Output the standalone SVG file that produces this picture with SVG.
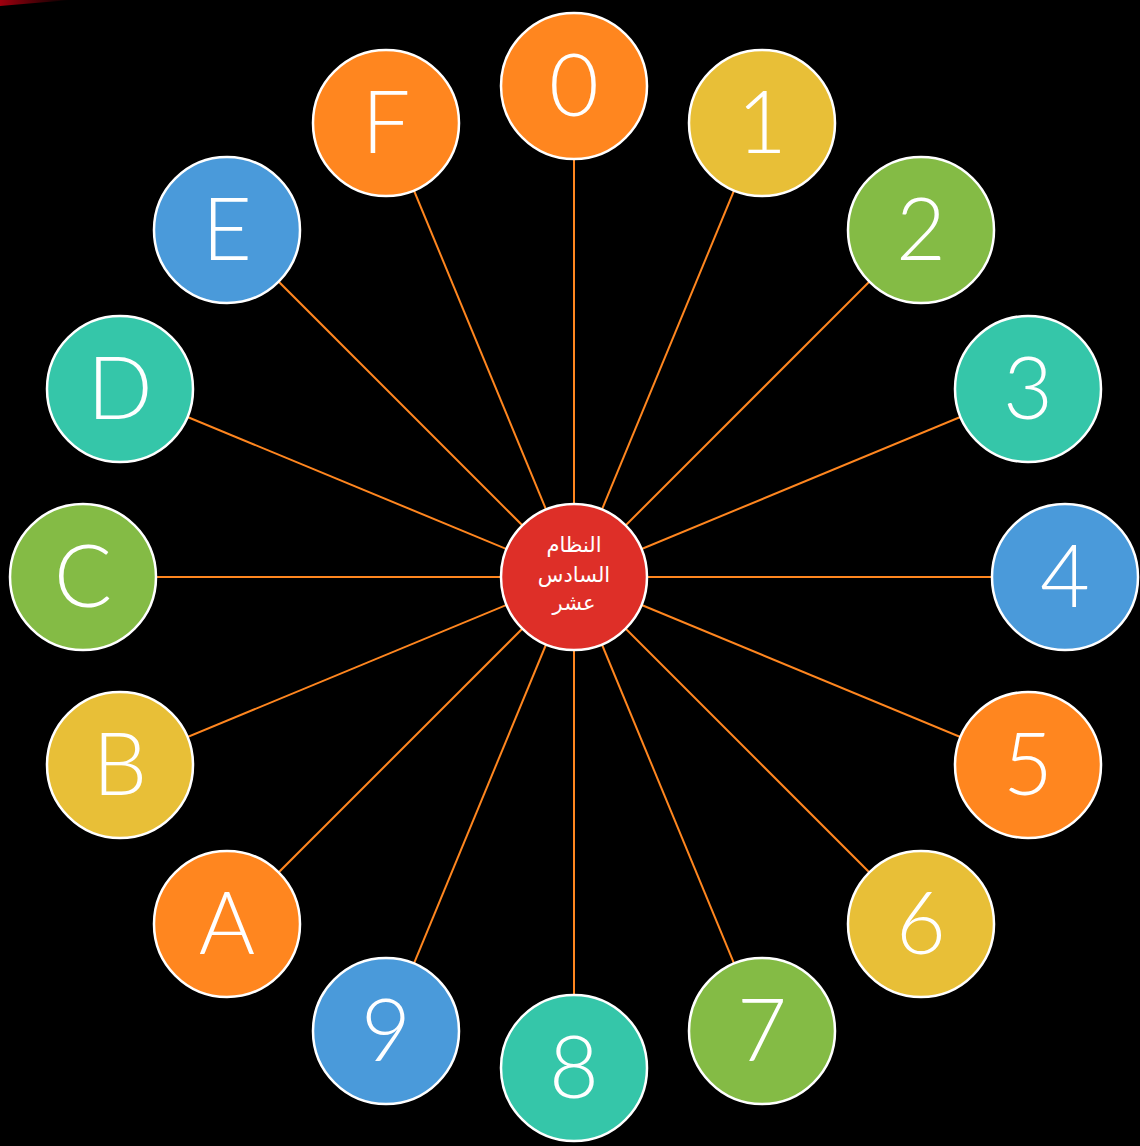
<svg xmlns="http://www.w3.org/2000/svg" width="1140" height="1146" viewBox="0 0 1140 1146">
<defs>
<linearGradient id="rg" x1="0" y1="0" x2="1" y2="0">
<stop offset="0" stop-color="#b00010" stop-opacity="0.9"/>
<stop offset="1" stop-color="#b00010" stop-opacity="0"/>
</linearGradient>
<style>
.n{stroke:#fff;stroke-width:2.5}
.o{fill:#FF861F}.y{fill:#E8BF37}.g{fill:#84BB45}.t{fill:#35C6A9}.b{fill:#4A9ADA}
.l{font-family:Lato,"Open Sans",sans-serif;font-weight:300;font-size:86px;fill:#fff;text-anchor:middle}
.c{stroke:#FF861F;stroke-width:2}
.a{font-family:"DejaVu Sans",sans-serif;font-size:21px;fill:#fff;text-anchor:middle}
</style>
</defs>
<rect width="1140" height="1146" fill="#000"/>
<path d="M0 0 L70 0 L0 6 Z" fill="url(#rg)"/>
<g id="connectors">
<line class="c" x1="574" y1="577" x2="574" y2="86"/>
<line class="c" x1="574" y1="577" x2="762" y2="123"/>
<line class="c" x1="574" y1="577" x2="921" y2="230"/>
<line class="c" x1="574" y1="577" x2="1028" y2="389"/>
<line class="c" x1="574" y1="577" x2="1065" y2="577"/>
<line class="c" x1="574" y1="577" x2="1028" y2="765"/>
<line class="c" x1="574" y1="577" x2="921" y2="924"/>
<line class="c" x1="574" y1="577" x2="762" y2="1031"/>
<line class="c" x1="574" y1="577" x2="574" y2="1068"/>
<line class="c" x1="574" y1="577" x2="386" y2="1031"/>
<line class="c" x1="574" y1="577" x2="227" y2="924"/>
<line class="c" x1="574" y1="577" x2="120" y2="765"/>
<line class="c" x1="574" y1="577" x2="83" y2="577"/>
<line class="c" x1="574" y1="577" x2="120" y2="389"/>
<line class="c" x1="574" y1="577" x2="227" y2="230"/>
<line class="c" x1="574" y1="577" x2="386" y2="123"/>
</g>
<g id="n0"><circle class="n o" cx="574" cy="86" r="73"/><text class="l" x="574" y="116">0</text></g>
<g id="n1"><circle class="n y" cx="762" cy="123" r="73"/><text class="l" x="762" y="153">1</text></g>
<g id="n2"><circle class="n g" cx="921" cy="230" r="73"/><text class="l" x="921" y="260">2</text></g>
<g id="n3"><circle class="n t" cx="1028" cy="389" r="73"/><text class="l" x="1028" y="419">3</text></g>
<g id="n4"><circle class="n b" cx="1065" cy="577" r="73"/><text class="l" x="1065" y="607">4</text></g>
<g id="n5"><circle class="n o" cx="1028" cy="765" r="73"/><text class="l" x="1028" y="795">5</text></g>
<g id="n6"><circle class="n y" cx="921" cy="924" r="73"/><text class="l" x="921" y="954">6</text></g>
<g id="n7"><circle class="n g" cx="762" cy="1031" r="73"/><text class="l" x="762" y="1061">7</text></g>
<g id="n8"><circle class="n t" cx="574" cy="1068" r="73"/><text class="l" x="574" y="1098">8</text></g>
<g id="n9"><circle class="n b" cx="386" cy="1031" r="73"/><text class="l" x="386" y="1061">9</text></g>
<g id="nA"><circle class="n o" cx="227" cy="924" r="73"/><text class="l" x="227" y="954">A</text></g>
<g id="nB"><circle class="n y" cx="120" cy="765" r="73"/><text class="l" x="120" y="795">B</text></g>
<g id="nC"><circle class="n g" cx="83" cy="577" r="73"/><text class="l" x="83" y="607">C</text></g>
<g id="nD"><circle class="n t" cx="120" cy="389" r="73"/><text class="l" x="120" y="419">D</text></g>
<g id="nE"><circle class="n b" cx="227" cy="230" r="73"/><text class="l" x="227" y="260">E</text></g>
<g id="nF"><circle class="n o" cx="386" cy="123" r="73"/><text class="l" x="386" y="153">F</text></g>
<g id="center"><circle class="n" fill="#DE2F28" cx="574" cy="577" r="73"/>
<text class="a" x="574" y="552">النظام</text>
<text class="a" x="574" y="582">السادس</text>
<text class="a" x="574" y="610">عشر</text>
</g>
</svg>
